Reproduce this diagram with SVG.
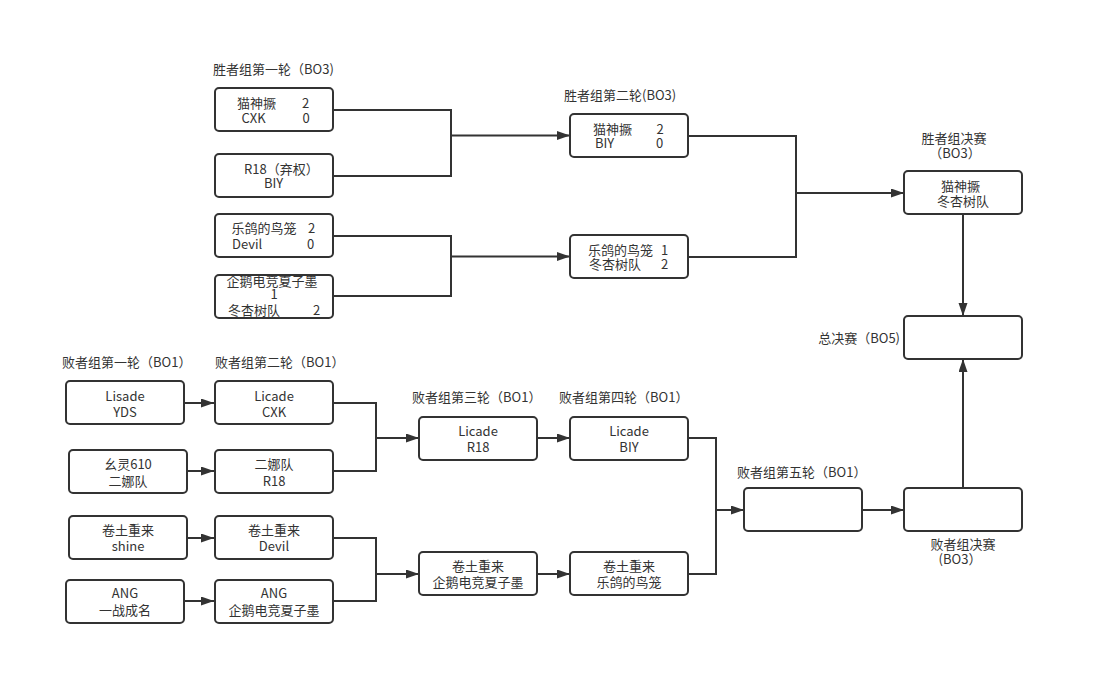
<svg xmlns="http://www.w3.org/2000/svg" width="1105" height="685" viewBox="0 0 1105 685">
<defs>
<style>
.box{fill:#fff;stroke:#333;stroke-width:2}
.t{font-family:"Noto Sans CJK SC","Liberation Sans",sans-serif;font-size:13px;fill:#333}
.c{text-anchor:middle}
.ln{fill:none;stroke:#333;stroke-width:2}
</style>
<marker id="ah" markerUnits="userSpaceOnUse" markerWidth="14" markerHeight="10" refX="13" refY="4.5" orient="auto">
<path d="M0,0 L13,4.5 L0,9 z" fill="#333"/>
</marker>
</defs>
<rect width="1105" height="685" fill="#fff"/>

<g id="labels">
<text class="t" x="213" y="74">胜者组第一轮（BO3)</text>
<text class="t" x="564" y="100">胜者组第二轮(BO3)</text>
<text class="t c" x="954" y="143">胜者组决赛<tspan x="955" dy="15">（BO3）</tspan></text>
<text class="t" x="900" y="343" text-anchor="end">总决赛（BO5)</text>
<text class="t" x="62" y="367">败者组第一轮（BO1）</text>
<text class="t" x="215" y="367">败者组第二轮（BO1）</text>
<text class="t" x="412" y="402">败者组第三轮（BO1）</text>
<text class="t" x="559" y="402">败者组第四轮（BO1）</text>
<text class="t" x="737" y="477">败者组第五轮（BO1）</text>
<text class="t c" x="963" y="549">败者组决赛<tspan x="960" dy="15">(BO3）</tspan></text>
</g>

<g id="connectors">
<polyline class="ln" points="333,110 451,110 451,176 333,176"/>
<line class="ln" x1="451" y1="135.5" x2="570" y2="135.5" marker-end="url(#ah)"/>
<polyline class="ln" points="333,236 451,236 451,296 333,296"/>
<line class="ln" x1="451" y1="256.5" x2="570" y2="256.5" marker-end="url(#ah)"/>
<polyline class="ln" points="688,136 796,136 796,257 688,257"/>
<line class="ln" x1="796" y1="193" x2="904" y2="193" marker-end="url(#ah)"/>
<line class="ln" x1="963" y1="214" x2="963" y2="316" marker-end="url(#ah)"/>
<line class="ln" x1="963" y1="488" x2="963" y2="359" marker-end="url(#ah)"/>
<line class="ln" x1="862" y1="510" x2="904" y2="510" marker-end="url(#ah)"/>
<polyline class="ln" points="688,438 716,438 716,574 688,574"/>
<line class="ln" x1="716" y1="510" x2="744" y2="510" marker-end="url(#ah)"/>
<line class="ln" x1="537" y1="438" x2="570" y2="438" marker-end="url(#ah)"/>
<line class="ln" x1="537" y1="574" x2="570" y2="574" marker-end="url(#ah)"/>
<polyline class="ln" points="333,403 376,403 376,471 333,471"/>
<line class="ln" x1="376" y1="438" x2="419" y2="438" marker-end="url(#ah)"/>
<polyline class="ln" points="333,538 376,538 376,601 333,601"/>
<line class="ln" x1="376" y1="574" x2="419" y2="574" marker-end="url(#ah)"/>
<line class="ln" x1="184" y1="403" x2="214" y2="403" marker-end="url(#ah)"/>
<line class="ln" x1="187" y1="471" x2="214" y2="471" marker-end="url(#ah)"/>
<line class="ln" x1="187" y1="538" x2="214" y2="538" marker-end="url(#ah)"/>
<line class="ln" x1="184" y1="601" x2="214" y2="601" marker-end="url(#ah)"/>
</g>

<g id="w1a"><rect class="box" x="215" y="88" width="118" height="43" rx="4"/>
<text class="t" x="237" y="107.5">猫神撅<tspan x="302">2</tspan><tspan x="241.5" dy="15">CXK</tspan><tspan x="302.5">0</tspan></text></g>
<g id="w1b"><rect class="box" x="215" y="154" width="118" height="43" rx="4"/>
<text class="t" x="244" y="173.5">R18（弃权）<tspan x="264" dy="14">BIY</tspan></text></g>
<g id="w1c"><rect class="box" x="215" y="214" width="118" height="43" rx="4"/>
<text class="t" x="231.5" y="232.5">乐鸽的鸟笼<tspan x="308">2</tspan><tspan x="232" dy="16">Devil</tspan><tspan x="307">0</tspan></text></g>
<g id="w1d"><rect class="box" x="215" y="275" width="118" height="43" rx="4"/>
<text class="t" x="226.5" y="286">企鹅电竞夏子墨<tspan x="270.5" dy="12.5">1</tspan><tspan x="228" dy="16">冬杏树队</tspan><tspan x="313">2</tspan></text></g>

<g id="w2a"><rect class="box" x="570" y="114" width="118" height="43" rx="4"/>
<text class="t" x="593" y="134">猫神撅<tspan x="656.5">2</tspan><tspan x="595" dy="14">BIY</tspan><tspan x="656">0</tspan></text></g>
<g id="w2b"><rect class="box" x="570" y="235" width="118" height="43" rx="4"/>
<text class="t" x="588" y="254.5">乐鸽的鸟笼<tspan x="661">1</tspan><tspan x="589" dy="14.5">冬杏树队</tspan><tspan x="661">2</tspan></text></g>

<g id="wf"><rect class="box" x="904" y="171" width="118" height="43" rx="4"/>
<text class="t c" x="960.5" y="191">猫神撅<tspan x="963" dy="15">冬杏树队</tspan></text></g>
<g id="gf"><rect class="box" x="904" y="316" width="118" height="43" rx="4"/></g>
<g id="lf"><rect class="box" x="904" y="488" width="118" height="43" rx="4"/></g>
<g id="l5"><rect class="box" x="744" y="488" width="118" height="43" rx="4"/></g>

<g id="l1a"><rect class="box" x="66" y="381" width="118" height="43" rx="4"/>
<text class="t c" x="125" y="401">Lisade<tspan x="125" dy="16">YDS</tspan></text></g>
<g id="l1b"><rect class="box" x="69" y="450" width="118" height="43" rx="4"/>
<text class="t c" x="128" y="468.5">幺灵610<tspan x="128" dy="17">二娜队</tspan></text></g>
<g id="l1c"><rect class="box" x="69" y="516" width="118" height="43" rx="4"/>
<text class="t c" x="128" y="534.5">卷土重来<tspan x="128" dy="16.5">shine</tspan></text></g>
<g id="l1d"><rect class="box" x="66" y="580" width="118" height="43" rx="4"/>
<text class="t c" x="125" y="597.5">ANG<tspan x="125" dy="17">一战成名</tspan></text></g>

<g id="l2a"><rect class="box" x="215" y="381" width="118" height="43" rx="4"/>
<text class="t c" x="274" y="401">Licade<tspan x="274" dy="16">CXK</tspan></text></g>
<g id="l2b"><rect class="box" x="215" y="450" width="118" height="43" rx="4"/>
<text class="t c" x="274" y="468.5">二娜队<tspan x="274" dy="17">R18</tspan></text></g>
<g id="l2c"><rect class="box" x="215" y="516" width="118" height="43" rx="4"/>
<text class="t c" x="274" y="534.5">卷土重来<tspan x="274" dy="16.5">Devil</tspan></text></g>
<g id="l2d"><rect class="box" x="215" y="580" width="118" height="43" rx="4"/>
<text class="t c" x="274" y="597.5">ANG<tspan x="274" dy="17">企鹅电竞夏子墨</tspan></text></g>

<g id="l3a"><rect class="box" x="419" y="417" width="118" height="43" rx="4"/>
<text class="t c" x="478" y="436">Licade<tspan x="478" dy="16">R18</tspan></text></g>
<g id="l3b"><rect class="box" x="419" y="552" width="118" height="43" rx="4"/>
<text class="t c" x="478" y="571">卷土重来<tspan x="478" dy="16">企鹅电竞夏子墨</tspan></text></g>
<g id="l4a"><rect class="box" x="570" y="417" width="118" height="43" rx="4"/>
<text class="t c" x="629" y="436">Licade<tspan x="629" dy="16">BIY</tspan></text></g>
<g id="l4b"><rect class="box" x="570" y="552" width="118" height="43" rx="4"/>
<text class="t c" x="629" y="571">卷土重来<tspan x="629" dy="16">乐鸽的鸟笼</tspan></text></g>
</svg>
